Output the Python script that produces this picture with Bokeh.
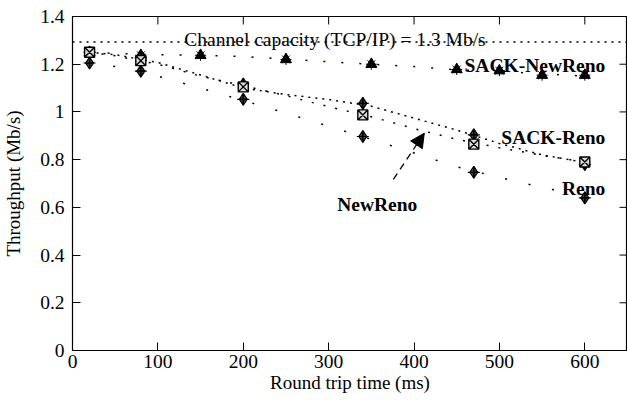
import math
from bokeh.plotting import figure
from bokeh.models import Range1d, Span, Arrow, NormalHead, Label, FixedTicker
from bokeh.embed import file_html
from bokeh.resources import INLINE

# ---- data ----
x_min, x_max = 0, 650
y_min, y_max = 0, 1.4
x_ticks = [0, 100, 200, 300, 400, 500, 600]
x_tick_labels = ["0", "100", "200", "300", "400", "500", "600"]
y_ticks = [0, 0.2, 0.4, 0.6, 0.8, 1.0, 1.2, 1.4]
y_tick_labels = ["0", "0.2", "0.4", "0.6", "0.8", "1", "1.2", "1.4"]

capacity = 1.293

rtt_sack_newreno = [20, 80, 150, 250, 350, 450, 500, 550, 600]
thr_sack_newreno = [1.25, 1.2375, 1.2375, 1.22, 1.20, 1.178, 1.173, 1.154, 1.154]

rtt_meas = [20, 80, 200, 340, 470, 600]
thr_sack_reno = [1.25, 1.215, 1.105, 0.9875, 0.865, 0.79]
thr_newreno = [1.25, 1.23, 1.117, 1.036, 0.904, 0.78]
thr_reno = [1.205, 1.171, 1.053, 0.897, 0.747, 0.64]

model_rtt = [20, 50, 100, 150, 200, 250, 300, 350, 400, 450, 500, 550, 600]
model_sack_newreno = [1.25, 1.245, 1.24, 1.237, 1.232, 1.222, 1.21, 1.20, 1.19, 1.176, 1.17, 1.16, 1.15]
model_newreno = [1.25, 1.24, 1.207, 1.155, 1.10, 1.073, 1.052, 1.024, 0.974, 0.924, 0.868, 0.82, 0.788]
model_sack_reno = [1.25, 1.235, 1.20, 1.15, 1.11, 1.068, 1.022, 0.98, 0.93, 0.885, 0.85, 0.818, 0.79]
model_rtt_reno = [20, 50, 100, 150, 200, 250, 300, 350, 400, 450, 500, 550, 575]
model_reno = [1.21, 1.19, 1.15, 1.10, 1.048, 0.995, 0.94, 0.885, 0.828, 0.77, 0.725, 0.684, 0.665]

capacity_text = "Channel capacity (TCP/IP) = 1.3 Mb/s"
capacity_text_pos = (131, 1.302)
series_labels = ["SACK-NewReno", "SACK-Reno", "Reno"]
series_label_pos = [(624, 1.196), (624, 0.893), (624, 0.678)]
newreno_label = "NewReno"
newreno_label_pos = (310, 0.6125)
arrow_start = (375.8, 0.717)
arrow_end = (412, 0.911)

FONT = "Liberation Serif"

p = figure(width=627, height=395, x_range=Range1d(x_min, x_max), y_range=Range1d(y_min, y_max),
           output_backend="svg", toolbar_location=None,
           min_border_left=0, min_border_right=0, min_border_top=16, min_border_bottom=0)
p.grid.visible = False
p.outline_line_color = "black"
p.outline_line_width = 1.2
p.background_fill_color = "white"
p.border_fill_color = "white"

def style_axis(ax, ticks, labels):
    ax.ticker = FixedTicker(ticks=ticks)
    ax.major_label_overrides = {t: l for t, l in zip(ticks, labels)}
    ax.major_tick_in = 8
    ax.major_tick_out = 0
    ax.minor_tick_line_color = None
    ax.axis_line_color = "black"
    ax.major_tick_line_color = "black"
    ax.major_label_text_font = FONT
    ax.major_label_text_color = "black"
    ax.major_label_text_font_size = "19.5px"
    ax.axis_label_text_font = FONT
    ax.axis_label_text_font_size = "19px"
    ax.axis_label_text_font_style = "normal"
    ax.axis_label_text_color = "black"

style_axis(p.xaxis[0], x_ticks, x_tick_labels)
style_axis(p.yaxis[0], y_ticks, y_tick_labels)
p.xaxis.axis_label = "Round trip time (ms)"
p.yaxis.axis_label = "Throughput (Mb/s)"
p.xaxis[0].major_label_standoff = 4
p.xaxis[0].axis_label_standoff = 1
p.yaxis[0].major_label_standoff = 8
p.yaxis[0].axis_label_standoff = 13

# mirrored inward ticks on the top and right edges
p.ray(x=x_ticks, y=[y_max] * len(x_ticks), length=8, length_units="screen",
      angle=-math.pi / 2, line_color="black", line_width=1)
p.ray(x=[x_max] * len(y_ticks), y=y_ticks, length=8, length_units="screen",
      angle=math.pi, line_color="black", line_width=1)

# capacity line
p.add_layout(Span(location=capacity, dimension="width", line_color="black",
                  line_width=1.6, line_dash="2 5"))

# model lines
p.line(model_rtt, model_sack_newreno, line_color="black", line_width=1.5, line_dash="2 16")
p.line(model_rtt, model_newreno, line_color="black", line_width=1.5, line_dash="2 5")
p.line(model_rtt, model_sack_reno, line_color="black", line_width=1.5, line_dash="2 10")
p.line(model_rtt_reno, model_reno, line_color="black", line_width=1.5, line_dash="2 22")

# measured points
p.scatter(rtt_sack_newreno, thr_sack_newreno, marker="triangle", size=11,
          fill_color="black", line_color="black")
p.scatter(rtt_sack_newreno, thr_sack_newreno, marker="asterisk", size=11,
          line_color="black", line_width=1)

for thr in (thr_reno, thr_newreno):
    p.scatter(rtt_meas, thr, marker="diamond_cross", size=12,
              fill_color="#444444", line_color="black", line_width=1.2)
    p.scatter(rtt_meas, thr, marker="cross", size=12, line_color="black", line_width=1.2)

p.scatter(rtt_meas, thr_sack_reno, marker="square_x", size=10,
          fill_color="#dddddd", line_color="black", line_width=1.4)

# labels
p.add_layout(Label(x=capacity_text_pos[0], y=capacity_text_pos[1], text=capacity_text,
                   text_font=FONT, text_font_size="19.5px", text_color="black",
                   text_baseline="alphabetic", text_align="left"))
for txt, (lx, ly) in zip(series_labels, series_label_pos):
    p.add_layout(Label(x=lx, y=ly, text=txt, text_font=FONT, text_font_size="19.5px",
                       text_font_style="bold", text_color="black",
                       text_baseline="alphabetic", text_align="right"))
p.add_layout(Label(x=newreno_label_pos[0], y=newreno_label_pos[1], text=newreno_label,
                   text_font=FONT, text_font_size="19.5px", text_font_style="bold",
                   text_color="black", text_baseline="alphabetic", text_align="left"))

p.add_layout(Arrow(end=NormalHead(size=14, fill_color="black", line_color="black"),
                   x_start=arrow_start[0], y_start=arrow_start[1],
                   x_end=arrow_end[0], y_end=arrow_end[1],
                   line_color="black", line_width=1.3, line_dash="7 5"))

open("out.html", "w").write(file_html(p, INLINE))
